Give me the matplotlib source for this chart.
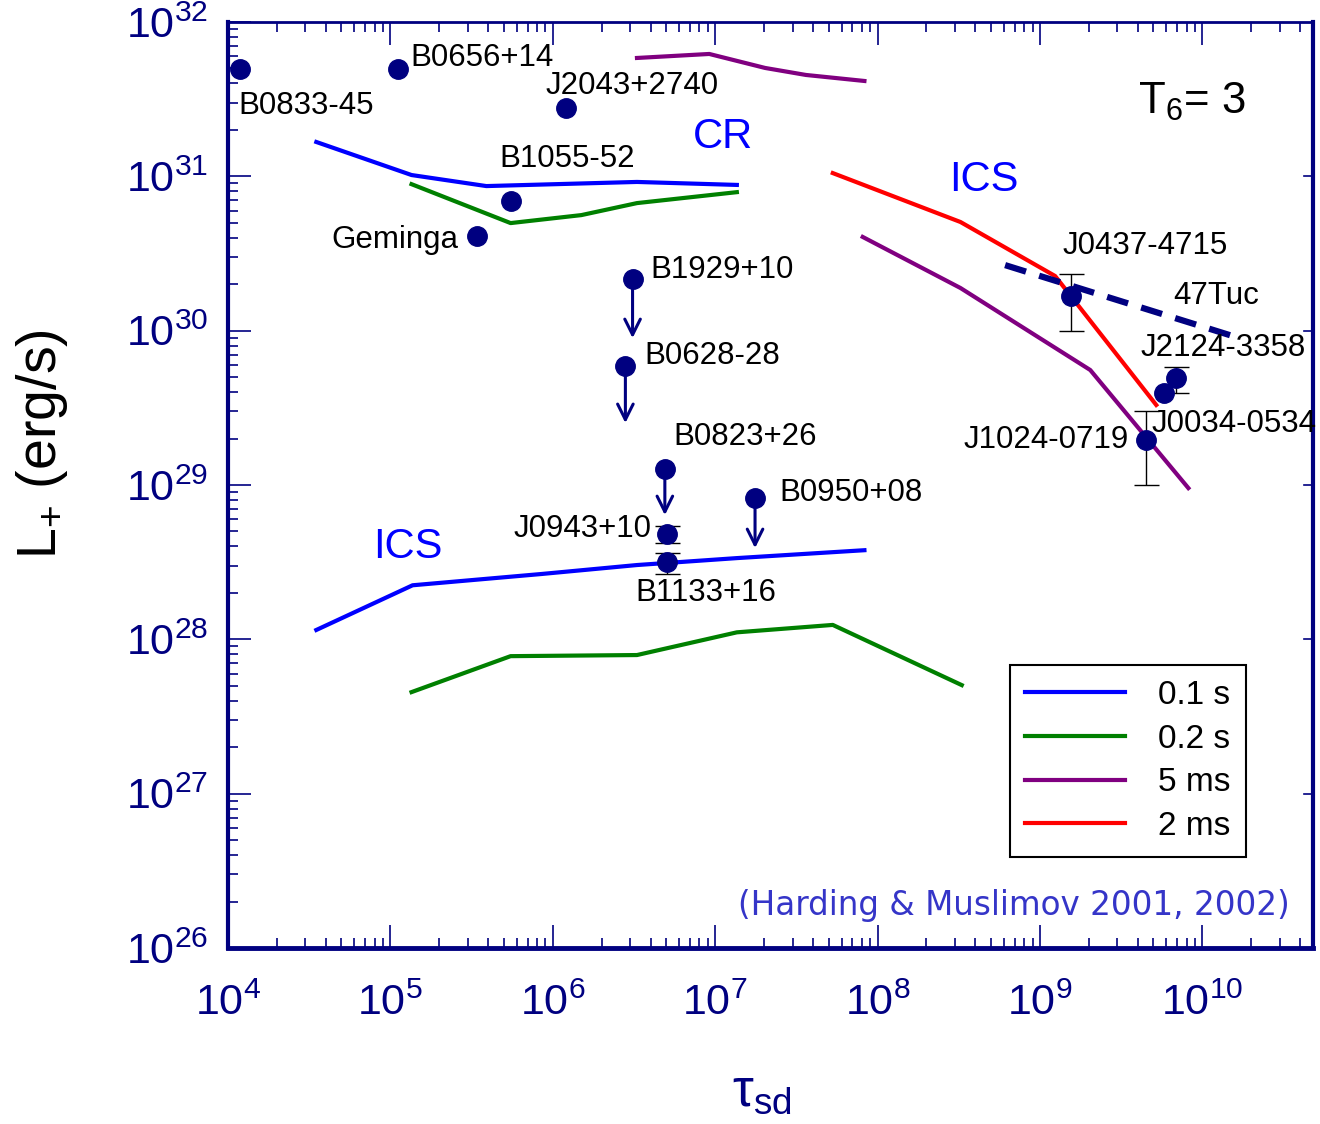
import matplotlib
matplotlib.use("Agg")
import matplotlib.pyplot as plt
from matplotlib.ticker import LogLocator, NullFormatter

plt.rcParams['font.family'] = ['Liberation Sans', 'DejaVu Sans']
plt.rcParams['mathtext.fontset'] = 'custom'
plt.rcParams['mathtext.rm'] = 'Liberation Sans'
plt.rcParams['mathtext.it'] = 'Liberation Sans:italic'
plt.rcParams['mathtext.default'] = 'regular'

NAVY = '#000080'

# --- model curves: spin-down age (yr) vs. pair luminosity (erg/s) ---
# P = 0.1 s
cr_01_tau = [3.5e4, 1.35e5, 3.9e5, 3.3e6, 1.36e7]
cr_01_L = [1.67e31, 1.02e31, 8.65e30, 9.2e30, 8.8e30]
ics_01_tau = [3.5e4, 1.37e5, 8.5e5, 3.3e6, 1.36e7, 8.3e7]
ics_01_L = [1.15e28, 2.24e28, 2.65e28, 3.03e28, 3.36e28, 3.78e28]
# P = 0.2 s
cr_02_tau = [1.35e5, 5.5e5, 1.5e6, 3.3e6, 1.36e7]
cr_02_L = [8.9e30, 4.98e30, 5.61e30, 6.71e30, 7.9e30]
ics_02_tau = [1.35e5, 5.5e5, 3.3e6, 1.36e7, 5.3e7, 3.3e8]
ics_02_L = [4.55e27, 7.78e27, 7.91e27, 1.11e28, 1.24e28, 5.05e27]
# P = 5 ms
cr_5ms_tau = [3.3e6, 9.2e6, 2.03e7, 3.62e7, 8.3e7]
cr_5ms_L = [5.85e31, 6.21e31, 5.04e31, 4.54e31, 4.15e31]
ics_5ms_tau = [8.1e7, 3.24e8, 2.04e9, 8.2e9]
ics_5ms_L = [4.05e30, 1.89e30, 5.56e29, 9.55e28]
# P = 2 ms
ics_2ms_tau = [5.3e7, 3.24e8, 1.24e9, 5.2e9]
ics_2ms_L = [1.05e31, 5.06e30, 2.26e30, 3.3e29]
# 47 Tuc
tuc_tau = [6.1e8, 1.48e10]
tuc_L = [2.66e30, 9.35e29]

# --- observed pulsars ---
psr_names = ['B0833-45', 'B0656+14', 'J2043+2740', 'B1055-52', 'Geminga',
             'J0437-4715', 'J2124-3358', 'J0034-0534', 'J1024-0719',
             'J0943+10', 'B1133+16']
psr_tau = [1.19e4, 1.12e5, 1.21e6, 5.5e5, 3.4e5,
           1.56e9, 6.9e9, 5.8e9, 4.5e9,
           5.06e6, 5.06e6]
psr_L = [4.95e31, 4.95e31, 2.77e31, 6.9e30, 4.1e30,
         1.67e30, 4.93e29, 3.95e29, 1.95e29,
         4.81e28, 3.15e28]
# error bar limits (None = no error bar)
psr_L_lo = [None, None, None, None, None,
            1.0e30, 3.95e29, None, 1.0e29,
            4.22e28, 2.67e28]
psr_L_hi = [None, None, None, None, None,
            2.33e30, 5.8e29, None, 3.01e29,
            5.42e28, 3.64e28]

# upper limits
ul_names = ['B1929+10', 'B0628-28', 'B0823+26', 'B0950+08']
ul_tau = [3.1e6, 2.8e6, 4.9e6, 1.76e7]
ul_L = [2.16e30, 5.9e29, 1.27e29, 8.26e28]
ul_L_arrow = [8.95e29, 2.52e29, 6.38e28, 3.9e28]

# axis decades
x_decades = [1e4, 1e5, 1e6, 1e7, 1e8, 1e9, 1e10]
y_decades = [1e26, 1e27, 1e28, 1e29, 1e30, 1e31, 1e32]

# label offsets in points and alignment
psr_offsets = [(-1.5, -26.6, 'left'), (8.8, 7.9, 'left'), (-15.0, 15.8, 'left'),
               (-7.8, 30.2, 'left'), (-13.0, -2.9, 'right'),
               (-6.4, 36.0, 'left'), (-25.8, 21.6, 'left'), (-9.2, -22.3, 'left'),
               (-12.4, 0.0, 'right'),
               (-11.0, 3.6, 'right'), (-22.9, -22.3, 'left')]
ul_offsets = [(13.1, 6.5), (13.8, 7.2), (5.9, 23.0), (17.4, 3.6)]

fig = plt.figure(figsize=(13.2, 11.24), dpi=100)
ax = fig.add_axes([0.1727, 0.1566, 0.822, 0.8238])
ax.set_xscale('log')
ax.set_yscale('log')

lw = 3
ax.plot(cr_01_tau, cr_01_L, color='#0000ff', lw=lw, label='0.1 s')
ax.plot(ics_01_tau, ics_01_L, color='#0000ff', lw=lw)
ax.plot(cr_02_tau, cr_02_L, color='#008000', lw=lw, label='0.2 s')
ax.plot(ics_02_tau, ics_02_L, color='#008000', lw=lw)
ax.plot(cr_5ms_tau, cr_5ms_L, color='#800080', lw=lw, label='5 ms')
ax.plot(ics_5ms_tau, ics_5ms_L, color='#800080', lw=lw)
ax.plot(ics_2ms_tau, ics_2ms_L, color='#ff0000', lw=lw, label='2 ms')
ax.plot(tuc_tau, tuc_L, color=NAVY, lw=4.5, dashes=(3.5, 2.2))
ax.annotate('47Tuc', (6.6e9, 1.67e30), ha='left', va='center', fontsize=22.5)

# pulsar points with error bars
for i, name in enumerate(psr_names):
    if psr_L_lo[i] is not None:
        ax.errorbar([psr_tau[i]], [psr_L[i]],
                    yerr=[[psr_L[i] - psr_L_lo[i]], [psr_L_hi[i] - psr_L[i]]],
                    fmt='none', ecolor='black', elinewidth=1, capsize=9,
                    capthick=1, zorder=4)
    dx, dy, ha = psr_offsets[i]
    ax.annotate(name, (psr_tau[i], psr_L[i]), xytext=(dx, dy),
                textcoords='offset points', ha=ha, va='center', fontsize=22.5)
ax.plot(psr_tau, psr_L, 'o', color=NAVY, ms=14, zorder=5)

# upper limits
for i, name in enumerate(ul_names):
    ax.annotate('', xy=(ul_tau[i], ul_L_arrow[i]), xytext=(ul_tau[i], ul_L[i]),
                arrowprops=dict(arrowstyle='->', color=NAVY, lw=2.2,
                                mutation_scale=28, shrinkA=0, shrinkB=0),
                zorder=4)
    dx, dy = ul_offsets[i]
    ax.annotate(name, (ul_tau[i], ul_L[i]), xytext=(dx, dy),
                textcoords='offset points', ha='left', va='center', fontsize=22.5)
ax.plot(ul_tau, ul_L, 'o', color=NAVY, ms=14, zorder=5)

# region labels
ax.text(0.456, 0.876, 'CR', transform=ax.transAxes, color='#0000ff',
        fontsize=30, ha='center', va='center')
ax.text(0.697, 0.829, 'ICS', transform=ax.transAxes, color='#0000ff',
        fontsize=30, ha='center', va='center')
ax.text(0.166, 0.433, 'ICS', transform=ax.transAxes, color='#0000ff',
        fontsize=30, ha='center', va='center')
ax.text(0.888, 0.914, 'T$_6$= 3', transform=ax.transAxes, color='black',
        fontsize=31.5, ha='center', va='center')
ax.text(0.979, 0.046, '(Harding & Muslimov 2001, 2002)', transform=ax.transAxes,
        color='#3535c8', fontsize=23.5, ha='right', va='center',
        family='DejaVu Sans')

leg = ax.legend(loc='upper left', bbox_to_anchor=(0.7207, 0.3056),
                borderaxespad=0, fontsize=24, handlelength=3.0,
                handletextpad=1.0, labelspacing=0.38, borderpad=0.45,
                fancybox=False, framealpha=1, edgecolor='black')
leg.get_frame().set_linewidth(1.5)

# axes frame and ticks
for side, w in [('left', 3), ('bottom', 3.5), ('top', 2), ('right', 3)]:
    ax.spines[side].set_color(NAVY)
    ax.spines[side].set_linewidth(w)

ax.set_xticks(x_decades)
ax.set_yticks(y_decades)
ax.xaxis.set_minor_locator(LogLocator(base=10, subs=range(2, 10), numticks=20))
ax.xaxis.set_minor_formatter(NullFormatter())
ax.yaxis.set_minor_locator(LogLocator(base=10, subs=range(2, 10), numticks=20))
ax.yaxis.set_minor_formatter(NullFormatter())
ax.set_xlim(1e4, 4.8e10)
ax.set_ylim(1e26, 1e32)

ax.tick_params(axis='x', which='both', direction='in', top=True, bottom=True,
               color=NAVY, width=1.2)
ax.tick_params(axis='x', which='major', length=16.5, pad=26,
               labelsize=31, labelcolor=NAVY)
ax.tick_params(axis='x', which='minor', length=7)
ax.tick_params(axis='y', which='both', direction='in', left=True, right=False,
               color=NAVY, width=1.2)
ax.tick_params(axis='y', which='major', length=16.5, pad=14,
               labelsize=31, labelcolor=NAVY)
ax.tick_params(axis='y', which='minor', length=7)

# short major ticks along the right edge
for yt in y_decades[1:-1]:
    ax.plot([1, 0.992], [yt, yt], color=NAVY, lw=1.2,
            transform=ax.get_yaxis_transform(), clip_on=False)

ax.set_ylabel('L$_{+}$ (erg/s)', fontsize=40, color='black')
ax.yaxis.set_label_coords(-0.146, 0.544)
ax.set_xlabel(r'$\tau_{sd}$', fontsize=38, color=NAVY)
ax.xaxis.set_label_coords(0.492, -0.128)

fig.savefig('out.png', dpi=100)
